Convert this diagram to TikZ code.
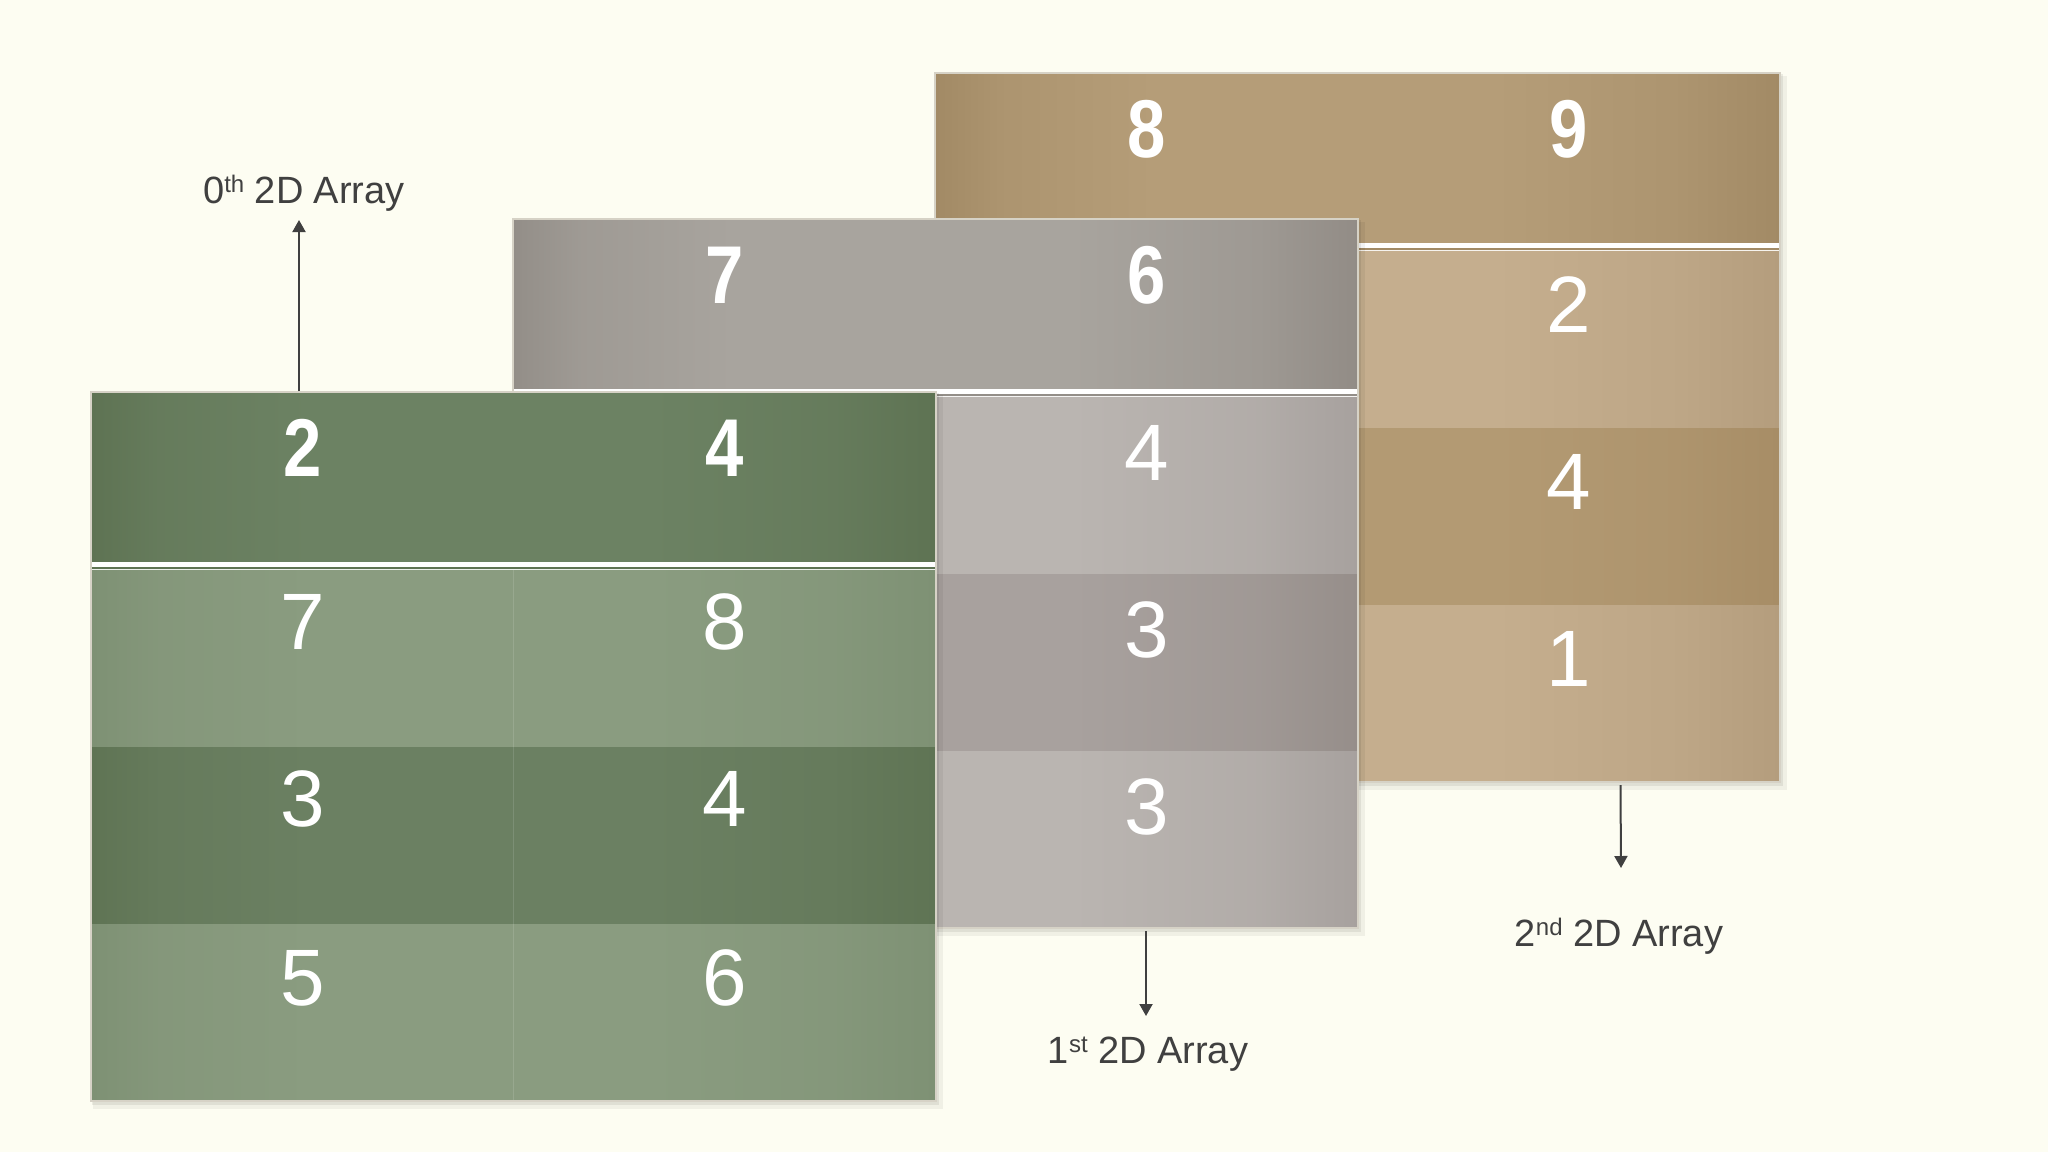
\documentclass[tikz,border=0pt]{standalone}
\usepackage{fontspec}
\usepackage{graphicx}
\setmainfont{Liberation Sans}
\usetikzlibrary{arrows.meta}
\definecolor{bg}{HTML}{FDFDF2}
\definecolor{ink}{HTML}{404040}
\definecolor{rim}{HTML}{D6D2C6}
% green
\definecolor{gHE}{HTML}{5E7353}\definecolor{gHC}{HTML}{6C8263}\definecolor{gHR}{HTML}{5E7353}
\definecolor{gLE}{HTML}{7E9174}\definecolor{gLC}{HTML}{8A9C80}\definecolor{gLR}{HTML}{7E9174}
\definecolor{gDE}{HTML}{5F7454}\definecolor{gDC}{HTML}{6B8062}\definecolor{gDR}{HTML}{5F7454}
% gray
\definecolor{aHE}{HTML}{938E88}\definecolor{aHC}{HTML}{A8A49E}\definecolor{aHR}{HTML}{928C86}
\definecolor{aLE}{HTML}{B3AEAA}\definecolor{aLC}{HTML}{BAB5B1}\definecolor{aLR}{HTML}{A7A19E}
\definecolor{aDE}{HTML}{A39C99}\definecolor{aDC}{HTML}{A8A19E}\definecolor{aDR}{HTML}{968E8A}
% tan
\definecolor{tHE}{HTML}{A28A65}\definecolor{tHC}{HTML}{B59D78}\definecolor{tHR}{HTML}{A28A65}
\definecolor{tLE}{HTML}{BEA788}\definecolor{tLC}{HTML}{C5AE8E}\definecolor{tLR}{HTML}{B49D7D}
\definecolor{tDE}{HTML}{AD9470}\definecolor{tDC}{HTML}{B39A73}\definecolor{tDR}{HTML}{A78D66}
\colorlet{cE}{black}\colorlet{cC}{black}\colorlet{cR}{black}
\colorlet{cEm}{black}\colorlet{cRm}{black}
% the path is mapped onto 25bp..75bp of the shading
\pgfdeclarehorizontalshading[cE,cEm,cC,cRm,cR]{softh}{100bp}{%
  color(0bp)=(cE); color(25bp)=(cE); color(29bp)=(cEm); color(38bp)=(cC);
  color(58bp)=(cC); color(69bp)=(cRm); color(75bp)=(cR); color(100bp)=(cR)}
\newcommand{\setshade}[3]{%
  \colorlet{cE}{#1}\colorlet{cC}{#2}\colorlet{cR}{#3}%
  \colorlet{cEm}{#2!55!#1}\colorlet{cRm}{#2!55!#3}}
\newcommand{\band}[3]{%
  \setshade{#1E}{#1C}{#1R}%
  \shade[shading=softh] (0,#2) rectangle (845,#3);}
\newcommand{\panelbody}[1]{%
  \fill[black,opacity=0.05] (2,3) rectangle (852,717);
  \fill[black,opacity=0.07] (1,1) rectangle (848,713);
  \band{#1H}{0}{170}
  \fill[white] (0,170) rectangle (845,175);
  \fill[#1HE] (0,175) rectangle (845,176.5);
  \fill[white!85!#1LC] (0,176.5) rectangle (845,178);
  \band{#1L}{178}{355}
  \band{#1D}{355}{532}
  \band{#1L}{532}{709}
  \draw[white,opacity=0.12,line width=1] (422.5,178) -- (422.5,709);
  \draw[rim,line width=1.5] (0,0) rectangle (845,709);
}
\tikzset{
  num/.style={text=white,inner sep=0pt,font=\fontsize{80bp}{80bp}\selectfont},
  numb/.style={num,font=\fontsize{82bp}{82bp}\selectfont\bfseries},
  lbl/.style={text=ink,inner sep=0pt,anchor=base,font=\fontsize{38bp}{40bp}\selectfont},
  arr/.style={draw=ink,line width=2bp,-{Triangle[width=13bp,length=12bp]}}
}
\newcommand{\sups}[1]{\raisebox{11bp}{\fontsize{24bp}{24bp}\selectfont #1}}
\newcommand{\nar}[1]{\scalebox{0.84}[1]{#1}}
\begin{document}
\begin{tikzpicture}[x=1bp,y=-1bp]
\fill[bg] (0,0) rectangle (2048,1152);
\useasboundingbox (0,0) rectangle (2048,1152);
% 2nd (back) panel
\begin{scope}[shift={(935,73)}]
  \panelbody{t}
  \node[numb] (t-h1) at (212,56) {\nar{8}};
  \node[numb] (t-h2) at (634,56) {\nar{9}};
  \node[num] (t-r1b) at (634,232) {2};
  \node[num] (t-r2b) at (634,409) {4};
  \node[num] (t-r3b) at (634,586) {1};
  \coordinate (t-bot) at (685.5,712);
\end{scope}
% 1st panel
\begin{scope}[shift={(513,219)}]
  \panelbody{a}
  \node[numb] (a-h1) at (212,56) {\nar{7}};
  \node[numb] (a-h2) at (634,56) {\nar{6}};
  \node[num] (a-r1b) at (634,234) {4};
  \node[num] (a-r2b) at (634,411) {3};
  \node[num] (a-r3b) at (634,588) {3};
  \coordinate (a-bot) at (633,712);
\end{scope}
% 0th panel
\begin{scope}[shift={(91,392)}]
  \panelbody{g}
  \node[numb] (g-h1) at (212,56) {\nar{2}};
  \node[numb] (g-h2) at (634,56) {\nar{4}};
  \node[num] (g-r1a) at (212,230) {7};
  \node[num] (g-r1b) at (634,230) {8};
  \node[num] (g-r2a) at (212,407) {3};
  \node[num] (g-r2b) at (634,407) {4};
  \node[num] (g-r3a) at (212,586) {5};
  \node[num] (g-r3b) at (634,586) {6};
  \coordinate (g-top) at (208,-1);
\end{scope}
% labels
\node[lbl] (lbl0) at (304,203) {0\sups{th} 2D Array};
\node[lbl] (lbl1) at (1148,1063) {1\sups{st} 2D Array};
\node[lbl] (lbl2) at (1619,946) {2\sups{nd} 2D Array};
\coordinate (tip0) at (299,220);
\coordinate (tip1) at (1146,1016);
\coordinate (tip2) at (1621,868);
\draw[arr] (g-top) -- (tip0);
\draw[arr] (a-bot) -- (tip1);
\draw[arr] (t-bot) -- (tip2);
\end{tikzpicture}
\end{document}
